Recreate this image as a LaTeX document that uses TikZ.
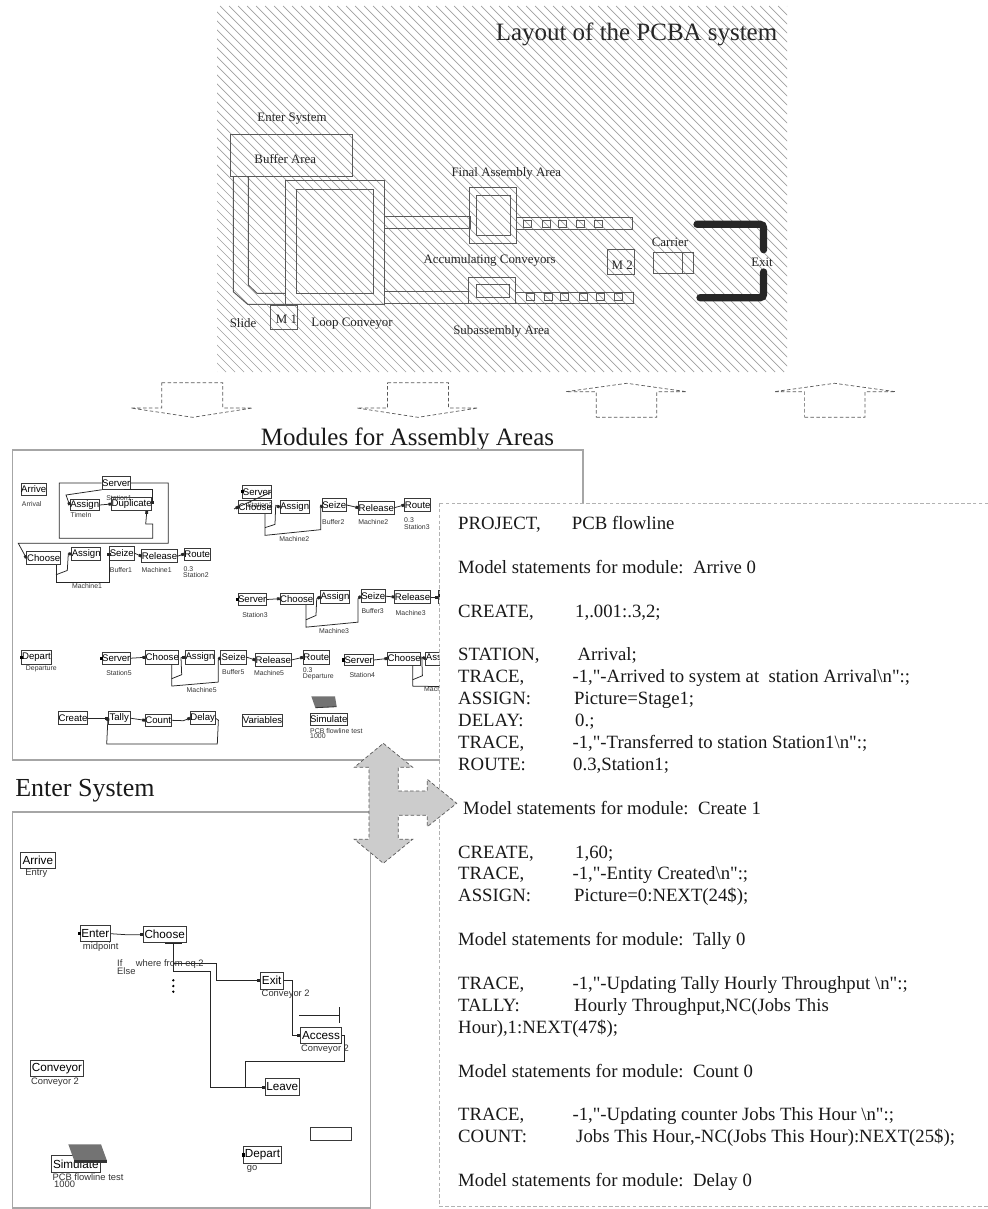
\documentclass[tikz,border=0pt]{standalone}
\usepackage{fontspec}
\setmainfont{Liberation Serif}
\setsansfont{Liberation Sans}
\newfontfamily\listingfont{Liberation Serif}
\usetikzlibrary{arrows.meta}
\tikzset{
  hatchline/.style={gray!75, line width=0.6pt},
  arealine/.style={draw=black!65, line width=0.85pt},
  arealabel/.style={font=\fontsize{11}{13}\selectfont, inner sep=0pt, text=black!85, yshift=-1pt},
  blockarrow/.style={draw=gray!70!black, densely dashed, line width=0.6pt},
  frame/.style={draw=gray!70, line width=0.9pt},
  heading/.style={font=\fontsize{21.3}{26}\selectfont, inner sep=0pt, text=black!90, yshift=-2.5pt},
  modbox/.style 2 args={draw=gray!45!black, line width=0.7pt, inner sep=0pt, font=\sffamily\fontsize{8.2}{10}\selectfont, minimum width=#1*0.03cm, minimum height=#2*0.03cm},
  bigbox/.style 2 args={draw=gray!45!black, line width=0.7pt, inner sep=0pt, font=\sffamily\fontsize{10}{12}\selectfont, minimum width=#1*0.03cm, minimum height=#2*0.03cm},
  modlabel/.style={font=\sffamily\fontsize{5.9}{7}\selectfont, inner sep=0pt, text=black!80},
  biglabel/.style={font=\sffamily\fontsize{8}{9}\selectfont, inner sep=0pt, text=black!80},
  conn/.style={black!85, line width=0.65pt, -{Square[length=2.4pt,width=2.4pt]}},
  port/.style={fill=black, inner sep=0pt, minimum size=2.6pt},
  codeline/.style={anchor=base west, font=\listingfont\fontsize{16}{19}\selectfont, inner sep=0pt, text=black!90, yshift=-4.7pt},
}
\begin{document}
\begin{tikzpicture}[x=0.03cm, y=-0.03cm]
  \useasboundingbox (0,0) rectangle (988,1209);
  % layout of the system
  \begin{scope}
    \clip (217,6) rectangle (787,372);
    \foreach \hatchx in {-149,-140,...,787} {
      \draw[hatchline] (\hatchx,6) -- ++(366,366);
    }
  \end{scope}
  \node[font=\fontsize{21.3}{25}\selectfont, inner sep=0pt, text=black!85] (layouttitle) at (636.5,34) {Layout of the PCBA system};
  \draw[arealine] (230.7,134.5) rectangle (352,176);
  \draw[arealine] (233.3,176) -- (233.3,291.7) -- (247.6,304.3) -- (384,304.3);
  \draw[arealine] (248.4,176) -- (248.4,285) -- (257,293.3) -- (285.3,293.3);
  \draw[arealine] (285.3,180) rectangle (384,304.3);
  \draw[arealine] (296.2,189.7) rectangle (373.8,293.3);
  \draw[arealine] (384,216.7) rectangle (470,228.3);
  \draw[arealine] (469.8,187.3) rectangle (516.8,243.3);
  \draw[arealine] (476.6,195.3) rectangle (510,235.3);
  \draw[arealine] (516.8,217.3) rectangle (632.8,229);
  \draw[arealine] (523.4,220.5) rectangle ++(8,7);
  \draw[arealine] (542.2,220.5) rectangle ++(8,7);
  \draw[arealine] (558.4,220.5) rectangle ++(8,7);
  \draw[arealine] (576.9,220.5) rectangle ++(8,7);
  \draw[arealine] (594.9,220.5) rectangle ++(8,7);
  \draw[arealine] (468.3,277.3) rectangle (515.7,303.3);
  \draw[arealine] (476.2,284) rectangle (509,297.3);
  \draw[arealine] (384,291.7) rectangle (468.3,303.3);
  \draw[arealine] (515.7,292) rectangle (633.6,303.7);
  \draw[arealine] (526,293.8) rectangle ++(8,7);
  \draw[arealine] (544.1,293.8) rectangle ++(8,7);
  \draw[arealine] (560.7,293.8) rectangle ++(8,7);
  \draw[arealine] (579.1,293.8) rectangle ++(8,7);
  \draw[arealine] (596.4,293.8) rectangle ++(8,7);
  \draw[arealine] (614.5,293.2) rectangle ++(8,7);
  \draw[arealine] (270.6,305) rectangle (297.7,329.3);
  \draw[arealine] (607.6,249.7) rectangle (634.7,274.3);
  \draw[arealine] (653.5,252.7) rectangle (693.4,273.3);
  \draw[arealine] (682.7,252.7) -- (682.7,273.3);
  \draw[black!85, line width=6.2pt, line cap=round, rounded corners=3pt] (697,224.3) -- (763.6,224.3) -- (763.6,249.7);
  \draw[black!85, line width=6.2pt, line cap=round, rounded corners=3pt] (763.6,272) -- (763.6,297.7) -- (700,297.7);
  \node[arealabel] (enterlabel) at (292,117.7) {Enter System};
  \node[arealabel] (bufferlabel) at (285.3,157.7) {Buffer Area};
  \node[arealabel] (finallabel) at (506.3,172.7) {Final Assembly Area};
  \node[arealabel] (accumlabel) at (489.7,259.3) {Accumulating Conveyors};
  \node[arealabel] (carrierlabel) at (670,241.3) {Carrier};
  \node[arealabel] (exitlabel) at (762,260.7) {Exit};
  \node[arealabel] (slidelabel) at (243,322.3) {Slide};
  \node[arealabel] (looplabel) at (352,322.3) {Loop Conveyor};
  \node[arealabel] (sublabel) at (501.4,330.7) {Subassembly Area};
  \node[arealabel] (mone) at (286.4,318) {M 1};
  \node[arealabel] (mtwo) at (622.3,264.3) {M 2};
  % block arrows under the layout
  \draw[blockarrow] (161.7,382.7) -- (222.7,382.7) -- (222.7,408) -- (252.6,408) -- (192.7,417.3) -- (130.7,408) -- (161.7,408) -- cycle;
  \draw[blockarrow] (387.5,382.7) -- (448.5,382.7) -- (448.5,408) -- (478,408) -- (418,417.3) -- (357,408) -- (387.5,408) -- cycle;
  \draw[blockarrow] (596.3,417.3) -- (656.8,417.3) -- (656.8,391.7) -- (686.7,391.7) -- (626.8,383.3) -- (565.8,391.7) -- (596.3,391.7) -- cycle;
  \draw[blockarrow] (804.6,417.3) -- (865,417.3) -- (865,391.7) -- (895.5,391.7) -- (834.6,383.3) -- (774,391.7) -- (804.6,391.7) -- cycle;
  % modules for assembly areas
  \node[heading] (modulestitle) at (407.5,436) {Modules for Assembly Areas};
  \draw[frame] (12.5,450) rectangle (583,760);
  \node[modbox={24}{11.7}] (arrivea) at (33.7,489.2) {Arrive};
  \node[modlabel] (arrivelabel) at (31.7,504) {Arrival};
  \node[modlabel] (stationone) at (119,498.3) {Station1};
  \node[modbox={27.3}{12.7}] (servera) at (116.3,483) {Server};
  \node[modbox={29.3}{11.3}] (assigntime) at (84.7,505) {Assign};
  \node[modlabel] (timelabel) at (81,514.7) {TimeIn};
  \node[modbox={38}{13.3}] (duplicatea) at (131.7,504) {Duplicate};
  \node[modbox={34}{12.7}] (choosea) at (43.7,558) {Choose};
  \node[modbox={29}{12.7}] (assigna) at (86.2,554) {Assign};
  \node[modbox={25}{13.3}] (seizea) at (121.8,553.3) {Seize};
  \node[modbox={34.3}{13}] (releasea) at (159.5,556.2) {Release};
  \node[modbox={25.7}{12}] (routea) at (197.2,554) {Route};
  \node[modlabel] (bufferone) at (121,570) {Buffer1};
  \node[modlabel] (machineone) at (156.7,570) {Machine1};
  \node[modlabel, anchor=west] (routeone) at (183.3,569.5) {0.3};
  \node[modlabel, anchor=west] (routeonest) at (183,575) {Station2};
  \node[modlabel] (machineonelow) at (87,586) {Machine1};
  \draw[conn] (servera.east) -| (168.3,543.3) -- (18.3,543.3) -- (choosea.west);
  \draw[conn] (servera.west) -| (59.3,538.3) -| (152.7,524) -- (145.7,524) -- (duplicatea.-25);
  \draw[conn] (servera.-42) -| (duplicatea.east);
  \draw[conn] (servera.south west) -- (66,495) -- (assigntime.west);
  \draw[conn] (assigntime.east) -- (duplicatea.west);
  \draw[conn] (choosea.south) ++(12.3,0) -- ++(0,17.4) -| (seizea.west);
  \draw[conn] (choosea.south) ++(12.3,10) -- ++(11.3,-4.3) -- ++(1,-16.7) -- (assigna.west);
  \draw[conn] (seizea.east) -- (releasea.west);
  \draw[conn] (releasea.east) -- (routea.west);
  \node[modbox={27}{13}] (serverb) at (257,491.8) {Server};
  \node[modlabel] (stationtwo) at (260,505) {Station2};
  \node[modbox={30.7}{13.3}] (chooseb) at (255.3,507) {Choose};
  \node[modbox={29.3}{13}] (assignb) at (294.7,507.2) {Assign};
  \node[modbox={24}{13.3}] (seizeb) at (334.3,505) {Seize};
  \node[modbox={35.3}{12.7}] (releaseb) at (376.3,507.7) {Release};
  \node[modbox={26}{13.3}] (routeb) at (417.7,505) {Route};
  \node[port] (serverbin) at (serverb.west) {};
  \node[modlabel] (buffertwo) at (333.3,521.7) {Buffer2};
  \node[modlabel] (machinetwo) at (373.3,521.7) {Machine2};
  \node[modlabel, anchor=west] (routetwo) at (404,520) {0.3};
  \node[modlabel, anchor=west] (routetwost) at (404,526.7) {Station3};
  \node[modlabel] (machinetwolow) at (294.3,539.3) {Machine2};
  \draw[conn] (serverb.east) -- (234,509) -- (chooseb.west);
  \draw[conn] (chooseb.south) ++(9.7,0) -- ++(0,21.3) -- ++(55.7,-5.7) -- ++(0,-21) -- (seizeb.west);
  \draw[conn] (chooseb.south) ++(9.7,13.6) -- ++(10,-3.3) -- ++(0.7,-19) -- (assignb.west);
  \draw[conn] (seizeb.east) -- (releaseb.west);
  \draw[conn] (releaseb.east) -- (routeb.west);
  \node[modbox={27.7}{12.3}] (serverc) at (252.2,599.5) {Server};
  \node[modbox={32}{10.7}] (choosec) at (296.7,598.7) {Choose};
  \node[modbox={28.7}{12.7}] (assignc) at (335,597) {Assign};
  \node[modbox={23.3}{13}] (seizec) at (373.3,596.2) {Seize};
  \node[modbox={34.3}{13.3}] (releasec) at (412.5,597) {Release};
  \node[modbox={26}{12.7}] (routec) at (451.3,597) {Route};
  \node[port] (servercin) at (serverc.west) {};
  \node[modlabel] (stationthree) at (255,614.7) {Station3};
  \node[modlabel] (bufferthree) at (372.7,611) {Buffer3};
  \node[modlabel] (machinethree) at (410.7,612.7) {Machine3};
  \node[modlabel] (machinethreelow) at (334,630.7) {Machine3};
  \draw[conn] (serverc.east) -- (choosec.west);
  \draw[conn] (choosec.south) ++(9.3,0) -- ++(0,22.7) -- ++(52,-5) -- ++(0,-23.4) -- (seizec.west);
  \draw[conn] (choosec.south) ++(9.3,15.3) -- ++(10,-4.3) -- ++(0.7,-16.7) -- (assignc.west);
  \draw[conn] (seizec.east) -- (releasec.west);
  \draw[conn] (releasec.east) -- (routec.west);
  \node[modbox={29.7}{13.3}] (departa) at (36.5,657.3) {Depart};
  \node[port] (departin) at (departa.west) {};
  \node[modlabel] (departlabel) at (41.3,668.7) {Departure};
  \node[modbox={27.3}{11.7}] (servere) at (116.3,658.2) {Server};
  \node[port] (serverein) at (servere.west) {};
  \node[modbox={32.7}{13.3}] (choosee) at (162.3,657.3) {Choose};
  \node[modbox={29.3}{13.3}] (assigne) at (200,657.3) {Assign};
  \node[modbox={26}{13.3}] (seizee) at (233.7,657.3) {Seize};
  \node[modbox={34.7}{13.3}] (releasee) at (273.3,660) {Release};
  \node[modbox={26}{13.3}] (routee) at (316.3,657.3) {Route};
  \node[modlabel] (stationfive) at (119,673.3) {Station5};
  \node[modlabel] (bufferfive) at (233.3,672.3) {Buffer5};
  \node[modlabel] (machinefive) at (269,673.3) {Machine5};
  \node[modlabel] (machinefivelow) at (201.7,690) {Machine5};
  \node[modlabel, anchor=west] (routefive) at (302.7,670) {0.3};
  \node[modlabel, anchor=west] (routefivest) at (302.7,677) {Departure};
  \draw[conn] (servere.east) -- (choosee.west);
  \draw[conn] (choosee.south) ++(9.4,0) -- ++(0,21.7) -- ++(46.6,-4) -- ++(0,-21.7) -- (seizee.west);
  \draw[conn] (choosee.south) ++(9.4,14.3) -- ++(10,-4) -- ++(-0.7,-17) -- (assigne.west);
  \draw[conn] (seizee.east) -- (releasee.west);
  \draw[conn] (releasee.east) -- (routee.west);
  \node[modbox={29.3}{11.3}] (serverd) at (358.7,660) {Server};
  \node[port] (serverdin) at (serverd.west) {};
  \node[modbox={33}{13}] (choosed) at (404.2,658.5) {Choose};
  \node[modbox={29}{13}] (assignd) at (440.3,658.5) {Assign};
  \node[modlabel] (stationfour) at (362.3,675) {Station4};
  \node[modlabel, anchor=west] (machinefour) at (424,689.3) {Machine4};
  \draw[conn] (serverd.east) -- (choosed.west);
  \draw[conn] (choosed.south) ++(8.5,0) -- ++(0,20.7) -- ++(60,1);
  \draw[conn] (choosed.south) ++(8.5,14.3) -- ++(9.7,-4) -- ++(-0.6,-18.6) -- (assignd.west);
  \node[modbox={28.7}{13}] (createa) at (73,718.2) {Create};
  \node[modbox={21.7}{13}] (tallya) at (119.2,718.2) {Tally};
  \node[modbox={25}{12.7}] (counta) at (158.2,720.3) {Count};
  \node[modbox={24}{13}] (delaya) at (202.7,718.2) {Delay};
  \node[modbox={37}{12.7}] (variablesa) at (262.5,720.3) {Variables};
  \node[modbox={36}{12.3}] (simulatea) at (328.7,719.2) {Simulate};
  \fill[gray!90!black] (311.3,696.3) -- (335,696.3) -- (336.7,706.7) -- (315.3,707.7) -- cycle;
  \draw[black!80, line width=0.7pt] (315.3,707.7) -- (336.7,706.7);
  \node[modlabel, anchor=west] (simulatetest) at (310,731) {PCB flowline test};
  \node[modlabel, anchor=west] (simulaterep) at (310,736.3) {1000};
  \draw[conn] (createa.east) -- (tallya.west);
  \draw[conn] (tallya.east) -- (counta.west);
  \draw[conn] (counta.east) -- (183.3,720.7) -- (delaya.west);
  \draw[conn] (delaya.east) -- ++(3,2) -- (217.3,744) -- (106.7,744) -- (tallya.west);
  % enter system
  \node[heading, font=\fontsize{22.2}{26}\selectfont] (entertitle) at (85,788) {Enter System};
  \draw[frame] (12.7,812) rectangle (370.7,1208);
  \node[bigbox={34.3}{16}] (arriveb) at (37.8,860.3) {Arrive};
  \node[biglabel] (entrylabel) at (36.3,873) {Entry};
  \node[bigbox={30}{16}] (enternode) at (95.3,933.7) {Enter};
  \node[port] (enterin) at (enternode.west) {};
  \node[biglabel] (midpointlabel) at (100.7,946.7) {midpoint};
  \node[bigbox={43.3}{16}] (choosef) at (164.7,934.7) {Choose};
  \node[biglabel, anchor=west] (iflabel) at (117,963) {If};
  \node[biglabel, anchor=west] (elselabel) at (117,970.7) {Else};
  \node[biglabel, anchor=west] (wherelabel) at (135.7,963.7) {where from eq.2};
  \node[bigbox={23.3}{17.3}] (exitnode) at (271.7,980.7) {Exit};
  \node[biglabel] (exitconveyor) at (285.7,994.3) {Conveyor 2};
  \node[bigbox={41.3}{16}] (accessnode) at (321,1035.3) {Access};
  \node[biglabel] (accessconveyor) at (325,1049) {Conveyor 2};
  \node[bigbox={34}{16.7}] (leavenode) at (282.3,1087) {Leave};
  \node[bigbox={52.7}{16.3}] (conveyornode) at (57,1068.5) {Conveyor};
  \node[biglabel] (conveyorlabel) at (55,1081.7) {Conveyor 2};
  \node[bigbox={48.3}{17.3}] (simulateb) at (75.8,1164) {Simulate};
  \fill[gray!90!black] (68.3,1144.3) -- (101,1144.3) -- (106.7,1160) -- (74,1160) -- cycle;
  \fill[black!80] (74,1160) rectangle (106.7,1162.7);
  \node[biglabel, anchor=west] (testlabel) at (52.3,1177) {PCB flowline test};
  \node[biglabel, anchor=west] (replabel) at (54,1184.7) {1000};
  \node[bigbox={37.7}{16.7}] (departb) at (262.5,1155) {Depart};
  \node[port] (departbin) at (departb.west) {};
  \node[biglabel] (golabel) at (252,1169.3) {go};
  \node[bigbox={41.4}{13}] (emptybox) at (331,1133.8) {};
  \draw[conn] (enternode.east) -- (126,934.7) -- (choosef.west);
  \draw[black!85, line width=0.65pt] (choosef.south) ++(8.6,0) -- ++(0,28.4);
  \draw[black!85, line width=0.65pt] (choosef.south) ++(0.3,0.3) -- ++(17,0);
  \draw[conn] (choosef.south) ++(8.6,20.7) -- ++(42.7,0) |- (exitnode.west);
  \draw[conn] (choosef.south) ++(8.6,28.7) -- ++(37.4,0) |- (leavenode.west);
  \draw[conn] (exitnode.east) -- ++(8.4,0) |- (accessnode.west);
  \draw[conn] (accessnode.east) -- ++(2.7,0) |- (245.7,1061.3) |- (leavenode.west);
  \draw[gray!30!black, line width=0.6pt] (299.3,1015) -- (339,1015);
  \draw[gray!30!black, line width=0.6pt] (339,1007.3) -- (339,1022.7);
  \fill[black] (173.3,980.3) circle (1.3);
  \fill[black] (173.3,986) circle (1.3);
  \fill[black] (173.3,991.7) circle (1.3);
  % listing of the model statements
  \draw[gray!60, densely dashed, line width=0.4pt, fill=white] (439.5,503) rectangle (992,1206);
  \node[codeline] (projecta) at (458,524) {PROJECT,};
  \node[codeline] (projectb) at (571.7,524) {PCB flowline};
  \node[codeline] (arrivehead) at (458,567.8) {Model statements for module:\ \ Arrive 0};
  \node[codeline] (createc) at (458,611.6) {CREATE,};
  \node[codeline] (created) at (575,611.6) {1,.001:.3,2;};
  \node[codeline] (stationa) at (458,655.4) {STATION,};
  \node[codeline] (stationb) at (577.3,655.4) {Arrival;};
  \node[codeline] (tracea) at (458,677.3) {TRACE,};
  \node[codeline] (traceb) at (572.3,677.3) {-1,"-Arrived to system at \ station Arrival\textbackslash n":;};
  \node[codeline] (assigng) at (458,699.2) {ASSIGN:};
  \node[codeline] (assignh) at (574,699.2) {Picture=Stage1;};
  \node[codeline] (delayb) at (458,721.1) {DELAY:};
  \node[codeline] (delayc) at (575,721.1) {0.;};
  \node[codeline] (tracec) at (458,743) {TRACE,};
  \node[codeline] (traced) at (572.3,743) {-1,"-Transferred to station Station1\textbackslash n":;};
  \node[codeline] (routef) at (458,764.9) {ROUTE:};
  \node[codeline] (routeg) at (573,764.9) {0.3,Station1;};
  \node[codeline] (createhead) at (463,808.7) {Model statements for module:\ \ Create 1};
  \node[codeline] (createe) at (458,852.5) {CREATE,};
  \node[codeline] (createf) at (575,852.5) {1,60;};
  \node[codeline] (tracee) at (458,874.4) {TRACE,};
  \node[codeline] (tracef) at (572.3,874.4) {-1,"-Entity Created\textbackslash n":;};
  \node[codeline] (assigni) at (458,896.3) {ASSIGN:};
  \node[codeline] (assignj) at (574,896.3) {Picture=0:NEXT(24\$);};
  \node[codeline] (tallyhead) at (458,940.1) {Model statements for module:\ \ Tally 0};
  \node[codeline] (traceg) at (458,983.9) {TRACE,};
  \node[codeline] (traceh) at (572.3,983.9) {-1,"-Updating Tally Hourly Throughput \textbackslash n":;};
  \node[codeline] (tallyb) at (458,1005.8) {TALLY:};
  \node[codeline] (tallyc) at (574,1005.8) {Hourly Throughput,NC(Jobs This};
  \node[codeline] (tallyd) at (458,1027.7) {Hour),1:NEXT(47\$);};
  \node[codeline] (counthead) at (458,1071.5) {Model statements for module:\ \ Count 0};
  \node[codeline] (tracei) at (458,1115.3) {TRACE,};
  \node[codeline] (tracej) at (572.3,1115.3) {-1,"-Updating counter Jobs This Hour \textbackslash n":;};
  \node[codeline] (countb) at (458,1137.2) {COUNT:};
  \node[codeline] (countc) at (576,1137.2) {Jobs This Hour,-NC(Jobs This Hour):NEXT(25\$);};
  \node[codeline] (delayhead) at (458,1181) {Model statements for module:\ \ Delay 0};
  % double arrow between the panels
  \draw[blockarrow, fill=gray!40] (383.3,743.3) -- (412.7,767.3) -- (398.3,767.3) -- (398.3,791) -- (427.3,791) -- (427.3,779.3) -- (456.7,803.3) -- (427.3,826.7) -- (427.3,815.3) -- (398.3,815.3) -- (398.3,839.3) -- (412.7,839.3) -- (383.3,863.3) -- (354.3,839.3) -- (369,839.3) -- (369,767.3) -- (354.3,767.3) -- cycle;
\end{tikzpicture}
\end{document}
